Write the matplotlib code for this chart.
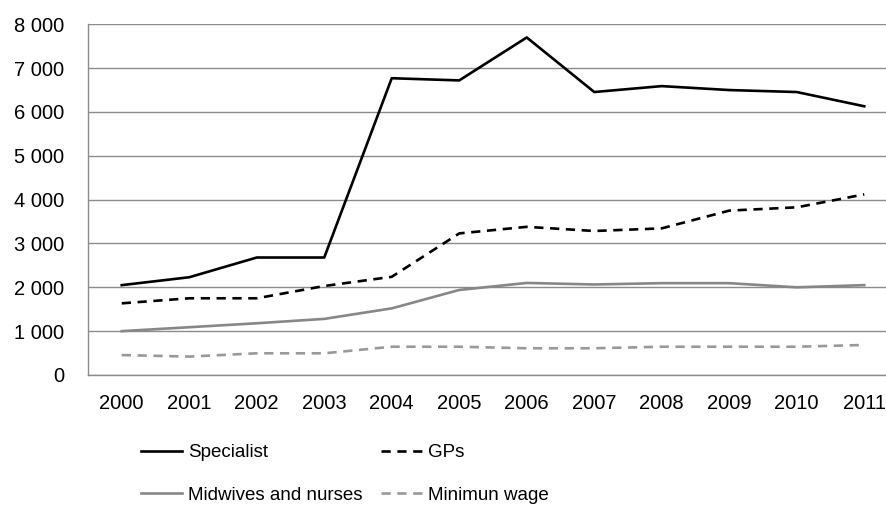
import matplotlib
matplotlib.use("Agg")
import matplotlib.pyplot as plt
from matplotlib.ticker import FuncFormatter

plt.rcParams['font.family'] = ['Liberation Sans', 'DejaVu Sans']

years = ["2000", "2001", "2002", "2003", "2004", "2005", "2006", "2007", "2008", "2009", "2010", "2011"]
specialist = [2050, 2230, 2680, 2680, 6770, 6720, 7700, 6455, 6590, 6500, 6455, 6130]
gps = [1635, 1750, 1750, 2030, 2240, 3230, 3380, 3285, 3345, 3750, 3825, 4120]
midwives = [1000, 1090, 1180, 1280, 1520, 1940, 2100, 2065, 2095, 2095, 2000, 2050]
min_wage = [455, 420, 495, 495, 645, 645, 610, 610, 645, 645, 645, 685]

fig = plt.figure(figsize=(8.87, 5.05), dpi=100)
W, H = 887, 505
left, right, top, bottom = 88, 898, 24.3, 375
ax = fig.add_axes([left / W, 1 - bottom / H, (right - left) / W, (bottom - top) / H])

x = list(range(len(years)))
h1, = ax.plot(x, specialist, color='black', lw=1.9, label='Specialist')
h2, = ax.plot(x, gps, color='black', lw=1.9, dashes=(3.5, 2.5), label='GPs')
h3, = ax.plot(x, midwives, color='#878787', lw=1.9, label='Midwives and nurses')
h4, = ax.plot(x, min_wage, color='#999999', lw=1.9, dashes=(3.5, 2.5), label='Minimun wage')

ax.set_xlim(-0.5, 11.5)
ax.set_ylim(0, 8000)
ax.set_yticks(range(0, 8001, 1000))
ax.yaxis.set_major_formatter(FuncFormatter(lambda v, p: f"{int(v):,}".replace(",", " ")))
ax.set_xticks(x)
ax.set_xticklabels(years)
ax.yaxis.grid(True, color='#8c8c8c', lw=1.0)
ax.set_axisbelow(True)
for s in ['top', 'right']:
    ax.spines[s].set_visible(False)
for s in ['left', 'bottom']:
    ax.spines[s].set_color('#8c8c8c')
    ax.spines[s].set_linewidth(1.0)
ax.tick_params(axis='both', length=0, labelsize=14.5, colors='black')
ax.tick_params(axis='y', pad=17)
ax.tick_params(axis='x', pad=14)

leg = fig.legend([h1, h3, h2, h4], [h.get_label() for h in (h1, h3, h2, h4)],
                 loc='upper left', bbox_to_anchor=(141 / W, 1 - 444 / H), ncol=2, frameon=False,
                 fontsize=13.5, handlelength=2.2, handletextpad=0.3, columnspacing=1.0,
                 labelspacing=1.35, borderaxespad=0, borderpad=0)

fig.savefig('out.png', dpi=100)
